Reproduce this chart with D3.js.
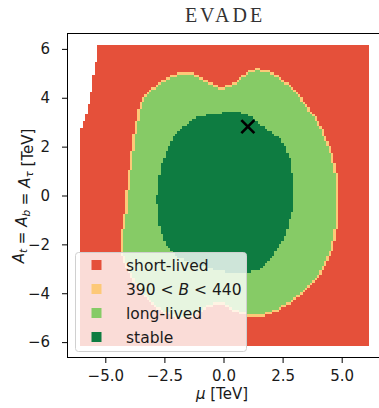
<!DOCTYPE html>
<html>
<head>
<meta charset="utf-8">
<script src="https://cdn.jsdelivr.net/npm/d3@7"></script>
<style>
  body { margin: 0; background: #fff; }
  svg { display: block; }
  .title { font-family: "Liberation Serif", "DejaVu Serif", serif; letter-spacing: 3px; }
</style>
</head>
<body>
<svg id="chart" width="379" height="408"></svg>
<script>
// Lifetime classes of the electroweak vacuum in the (mu, A) plane.
const categories = ["short-lived", "390 < B < 440", "long-lived", "stable"];
const categoryColors = ["#e5503a", "#fdc978", "#86cb66", "#0e7c41"];

// Scanned region of the parameter plane, [mu, A] in TeV.
const scanBoundary = [
  [-5.30, 6.20], [6.20, 6.20], [6.20, -6.20], [-6.08, -6.20], [-6.08, 2.30],
  [-5.98, 2.80], [-5.84, 3.20], [-5.66, 3.90], [-5.49, 5.00], [-5.38, 5.60]
];

// Edge of the metastable band (bounce action B = 390 contour), [mu, A] in TeV.
const longLivedBoundary = [
  [-4.33, -2.00], [-4.30, -1.40], [-4.22, -1.00], [-4.13, 0.00], [-3.97, 1.33],
  [-3.87, 2.10], [-3.75, 2.80], [-3.62, 3.50], [-3.45, 4.00], [-3.10, 4.32],
  [-2.67, 4.70], [-2.25, 4.92], [-1.83, 5.04], [-1.30, 5.02], [-0.98, 4.88],
  [-0.56, 4.63], [-0.16, 4.48], [0.28, 4.53], [0.71, 4.84], [0.99, 5.07],
  [1.41, 5.21], [1.83, 5.18], [2.22, 4.98], [2.60, 4.70], [3.03, 4.32],
  [3.38, 3.91], [3.80, 3.37], [4.22, 2.69], [4.51, 2.00], [4.72, 1.33],
  [4.86, 0.64], [4.90, -0.04], [4.86, -0.72], [4.79, -1.40], [4.65, -2.09],
  [4.37, -2.76], [3.95, -3.45], [3.38, -3.99], [2.82, -4.40], [2.26, -4.74],
  [1.55, -4.95], [1.13, -4.97], [0.99, -4.92], [0.49, -4.76], [0.07, -4.51],
  [-0.28, -4.45], [-0.65, -4.55], [-0.98, -4.80], [-1.41, -5.00], [-1.91, -5.04],
  [-2.46, -4.84], [-3.01, -4.47], [-3.39, -4.10], [-3.77, -3.57], [-4.11, -2.96],
  [-4.32, -2.43]
];

// Edge of the absolutely stable region, [mu, A] in TeV.
const stableBoundary = [
  [-0.98, 3.27], [-1.27, 3.17], [-1.69, 2.82], [-2.11, 2.41], [-2.39, 1.87],
  [-2.60, 1.33], [-2.75, 0.64], [-2.81, -0.04], [-2.79, -0.72], [-2.67, -1.40],
  [-2.39, -2.09], [-1.97, -2.49], [-1.27, -2.76], [-0.56, -2.97], [0.14, -3.11],
  [0.71, -3.15], [1.13, -3.11], [1.55, -3.05], [1.83, -2.76], [2.26, -2.22],
  [2.61, -1.61], [2.80, -1.00], [2.93, -0.50], [2.96, 0.00], [2.94, 0.64],
  [2.82, 1.46], [2.61, 2.00], [2.40, 2.35], [2.04, 2.62], [1.69, 2.82],
  [1.27, 3.17], [0.84, 3.39], [0.42, 3.44], [0.10, 3.44], [-0.30, 3.36]
];

// Benchmark point [mu, A] in TeV.
const benchmark = [1.03, 2.82];

// Scan grid spacing in TeV and the grid sample positions (both axes).
const gridStep = 0.1;
const gridValues = d3.range(-61, 62).map(k => +(k * gridStep).toFixed(2));

const xTicks = [-5, -2.5, 0, 2.5, 5];
const yTicks = [-6, -4, -2, 0, 2, 4, 6];

// ---------------------------------------------------------------------------
const svg = d3.select("#chart");
const plot = { left: 67, right: 380, top: 33, bottom: 358 };

const x = d3.scaleLinear().domain([-6.62, 6.62]).range([plot.left, plot.right]);
const y = d3.scaleLinear().domain([-6.65, 6.65]).range([plot.bottom, plot.top]);

const defs = svg.append("defs");
defs.append("clipPath").attr("id", "plot-clip")
  .append("rect")
  .attr("x", plot.left).attr("y", plot.top)
  .attr("width", plot.right - plot.left).attr("height", plot.bottom - plot.top);

// Classify every grid point.
const n = gridValues.length;
const inScan = [], inLong = [], inStable = [];
for (let j = 0; j < n; j++) {
  inScan.push([]); inLong.push([]); inStable.push([]);
  for (let i = 0; i < n; i++) {
    const p = [gridValues[i], gridValues[j]];
    inScan[j].push(d3.polygonContains(scanBoundary, p));
    inLong[j].push(d3.polygonContains(longLivedBoundary, p));
    inStable[j].push(d3.polygonContains(stableBoundary, p));
  }
}
function category(i, j) {
  if (!inScan[j][i]) return -1;
  if (inStable[j][i]) return 3;
  if (inLong[j][i]) {
    const nb = [[1, 0], [-1, 0], [0, 1], [0, -1]];
    for (const [di, dj] of nb) {
      const ii = i + di, jj = j + dj;
      if (ii < 0 || jj < 0 || ii >= n || jj >= n) continue;
      if (inScan[jj][ii] && !inLong[jj][ii]) return 1;
    }
    return 2;
  }
  return 0;
}

// Merge neighbouring cells of a row into runs.
const runs = [];
for (let j = 0; j < n; j++) {
  let start = 0, cur = category(0, j);
  for (let i = 1; i <= n; i++) {
    const c = i < n ? category(i, j) : -2;
    if (c !== cur) {
      if (cur >= 0) runs.push({ a: gridValues[j], m0: gridValues[start], m1: gridValues[i - 1], c: cur });
      start = i; cur = c;
    }
  }
}

const h = gridStep / 2;
svg.append("g")
  .attr("clip-path", "url(#plot-clip)")
  .attr("shape-rendering", "crispEdges")
  .selectAll("rect")
  .data(runs)
  .join("rect")
  .attr("x", d => x(d.m0 - h))
  .attr("width", d => x(d.m1 + h) - x(d.m0 - h) + 0.4)
  .attr("y", d => y(d.a + h))
  .attr("height", d => y(d.a - h) - y(d.a + h) + 0.4)
  .attr("fill", d => categoryColors[d.c]);

// Benchmark marker.
const bx = x(benchmark[0]), by = y(benchmark[1]), r = 6.5;
svg.append("path")
  .attr("d", `M${bx - r},${by - r}L${bx + r},${by + r}M${bx - r},${by + r}L${bx + r},${by - r}`)
  .attr("stroke", "#000").attr("stroke-width", 2.6).attr("fill", "none");

// Axes.
const tickFont = "DejaVu Sans, sans-serif";
const xAxis = svg.append("g")
  .attr("transform", `translate(0,${plot.bottom})`)
  .call(d3.axisBottom(x).tickValues(xTicks).tickFormat(d3.format(".1f")).tickSize(5).tickPadding(7));
const yAxis = svg.append("g")
  .attr("transform", `translate(${plot.left},0)`)
  .call(d3.axisLeft(y).tickValues(yTicks).tickFormat(d3.format("d")).tickSize(5).tickPadding(12));
[xAxis, yAxis].forEach(g => {
  g.select(".domain").remove();
  g.selectAll(".tick line").attr("stroke", "#000").attr("stroke-width", 1);
  g.selectAll(".tick text").attr("fill", "#1a1a1a")
    .style("font-family", tickFont).style("font-size", "15px");
});

// Frame.
svg.append("rect")
  .attr("x", plot.left + 0.5).attr("y", plot.top + 0.5)
  .attr("width", plot.right - plot.left).attr("height", plot.bottom - plot.top - 1)
  .attr("fill", "none").attr("stroke", "#000").attr("stroke-width", 1);

// Legend.
const legend = svg.append("g");
legend.append("rect")
  .attr("x", 75.5).attr("y", 252.5).attr("width", 171).attr("height", 99)
  .attr("rx", 3)
  .attr("fill", "#fff").attr("fill-opacity", 0.8)
  .attr("stroke", "#d0d0d0").attr("stroke-width", 1);
const rowY = [265, 289, 313, 337];
categories.forEach((name, k) => {
  legend.append("rect")
    .attr("x", 91.5).attr("y", rowY[k] - 5).attr("width", 10).attr("height", 10)
    .attr("fill", categoryColors[k]);
  const t = legend.append("text")
    .attr("x", 126).attr("y", rowY[k] + 5.5)
    .attr("fill", "#1a1a1a")
    .style("font-family", tickFont).style("font-size", "15.5px");
  if (k === 1) {
    t.append("tspan").text("390 < ");
    t.append("tspan").attr("font-style", "italic").text("B");
    t.append("tspan").text(" < 440");
  } else {
    t.text(name);
  }
});

// Title.
svg.append("text")
  .attr("class", "title")
  .attr("x", (plot.left + plot.right) / 2 + 1.5).attr("y", 21.5)
  .attr("text-anchor", "middle")
  .style("font-size", "20px")
  .attr("fill", "#333")
  .text("EVADE");

// Axis titles.
const xl = svg.append("text")
  .attr("x", 222).attr("y", 399)
  .attr("text-anchor", "middle")
  .style("font-family", tickFont).style("font-size", "15px")
  .attr("fill", "#1a1a1a");
xl.append("tspan").attr("font-style", "italic").text("μ");
xl.append("tspan").text(" [TeV]");

const yl = svg.append("text")
  .attr("transform", "translate(24,196) rotate(-90)")
  .attr("text-anchor", "middle")
  .style("font-family", tickFont).style("font-size", "15px")
  .attr("fill", "#1a1a1a");
function sub(label, s) {
  yl.append("tspan").attr("font-style", "italic").text(label);
  yl.append("tspan").attr("font-style", "italic").attr("font-size", "10.5px").attr("dy", 3).text(s);
  yl.append("tspan").attr("dy", -3).text("");
}
sub("A", "t");
yl.append("tspan").text(" = ");
sub("A", "b");
yl.append("tspan").text(" = ");
sub("A", "τ");
yl.append("tspan").text(" [TeV]");
</script>
</body>
</html>
